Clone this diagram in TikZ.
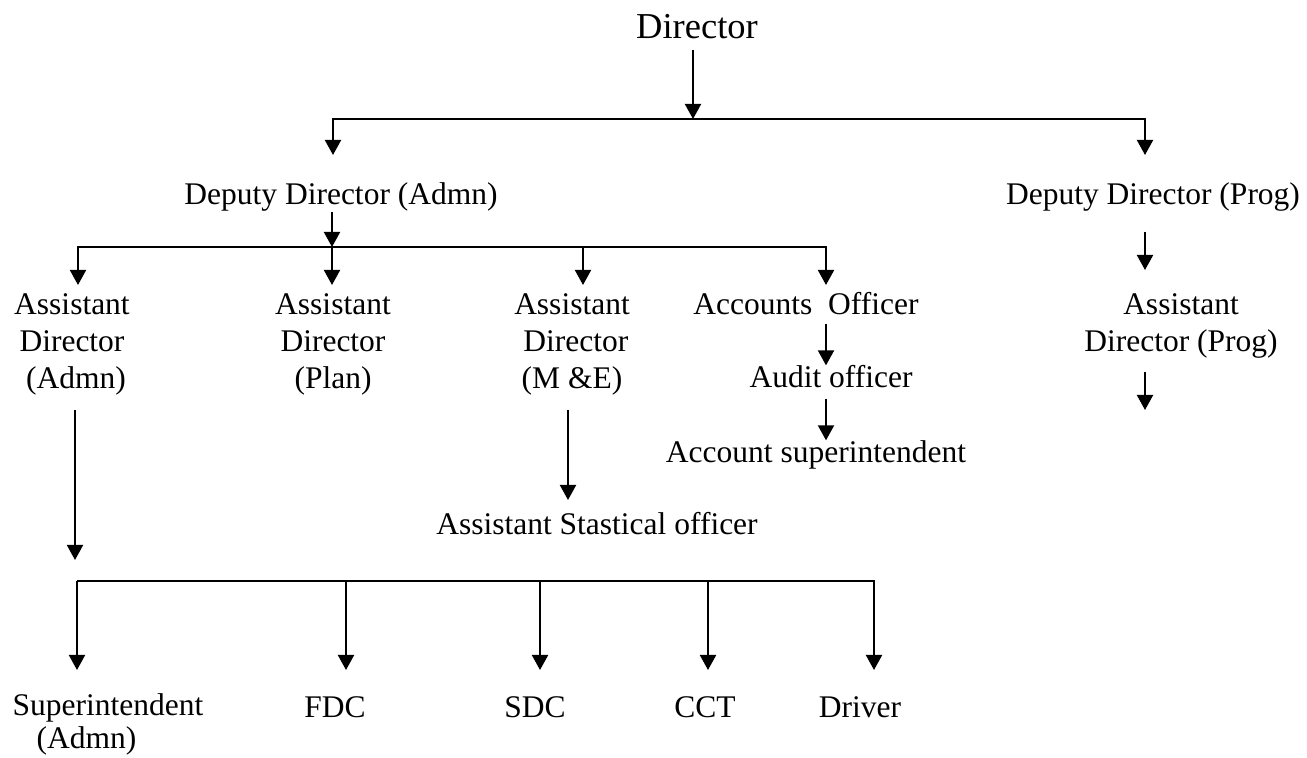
\documentclass[tikz,border=0pt]{standalone}
\usepackage{fontspec}
\setmainfont{Liberation Serif}
\usetikzlibrary{positioning}
\usetikzlibrary{calc}
\usetikzlibrary{arrows.meta}

\begin{document}
\begin{tikzpicture}[x=0.5pt, y=-0.5pt,
                        lbl/.style={font=\fontsize{15.75pt}{18.5pt}\selectfont, inner sep=0pt, align=center},
                        arr/.style={draw, line width=1pt, -{Triangle[length=7.5pt,width=8pt]}}]
            \useasboundingbox (0,0) rectangle (1307,758);

            % names
            \node[lbl, font=\fontsize{18.25pt}{21pt}\selectfont] (dir) at (697,27) {Director};
            \node[lbl] (ddadmn) at (341,197) {Deputy Director (Admn)};
            \node[lbl] (ddprog) at (1153,197) {Deputy Director (Prog)};
            \node[lbl] (adadmn) at (72,344) {Assistant\\Director\\\ (Admn)};
            \node[lbl] (adplan) at (333,344) {Assistant\\Director\\(Plan)};
            \node[lbl] (adme) at (572,344) {Assistant\\\ Director\\(M \&E)};
            \node[lbl] (acc) at (806,304) {Accounts\ \ Officer};
            \node[lbl] (aud) at (831,377) {Audit officer};
            \node[lbl] (asup) at (816,455) {Account superintendent};
            \node[lbl] (adprog) at (1181,326) {Assistant\\Director (Prog)};
            \node[lbl] (astat) at (597,524) {Assistant Stastical officer};
            \node[lbl, align=left] (supadmn) at (108,724) {Superintendent\\[-2pt]\hspace*{12pt}(Admn)};
            \node[lbl] (fdc) at (335,707) {FDC};
            \node[lbl] (sdc) at (535,707) {SDC};
            \node[lbl] (cct) at (705,707) {CCT};
            \node[lbl] (drv) at (860,707) {Driver};

            % branch points and free ends
            \coordinate (j0) at (693,119);
            \coordinate (a1) at (333,155);
            \coordinate (a2) at (1145,155);
            \coordinate (j1) at (332,247);
            \coordinate (b1) at (78,285);
            \coordinate (b2) at (332,285);
            \coordinate (b3) at (583,285);
            \coordinate (b4) at (826,285);
            \coordinate (c1) at (1145,270);
            \coordinate (c2) at (1145,410);
            \coordinate (d1) at (75,560);
            \coordinate (f1) at (568,500);
            \coordinate (j2) at (77,581);
            \coordinate (e1) at (77,670);
            \coordinate (e2) at (346,670);
            \coordinate (e3) at (540,670);
            \coordinate (e4) at (708,670);
            \coordinate (e5) at (874,670);

            % arrows
            \draw[arr, shorten <=5pt] (dir.south -| j0) -- (j0);
            \draw[arr] (j0) -| (a1);
            \draw[arr] (j0) -| (a2);
            \draw[arr] (ddadmn.south -| j1) -- (j1);
            \draw[arr] (j1) -| (b1);
            \draw[arr] (j1) -- (b2);
            \draw[arr] (b3 |- j1) -- (b3);
            \draw[arr] (j1) -| (b4);
            \draw[arr, shorten <=10pt] (ddprog.south -| c1) -- (c1);
            \draw[arr, shorten <=6.5pt] (adprog.south -| c2) -- (c2);
            \draw[arr, shorten <=4pt] (acc.south -| b4) -- (aud.north -| b4);
            \draw[arr, shorten <=5pt] (aud.south -| b4) -- (asup.north -| b4);
            \draw[arr, shorten <=7.5pt] (adadmn.south -| d1) -- (d1);
            \draw[arr, shorten <=7.5pt] (adme.south -| f1) -- (f1);
            \draw[arr] (j2) -- (e1);
            \draw[arr] (e2 |- j2) -- (e2);
            \draw[arr] (e3 |- j2) -- (e3);
            \draw[arr] (e4 |- j2) -- (e4);
            \draw[arr] (j2) -| (e5);
\end{tikzpicture}
\end{document}
